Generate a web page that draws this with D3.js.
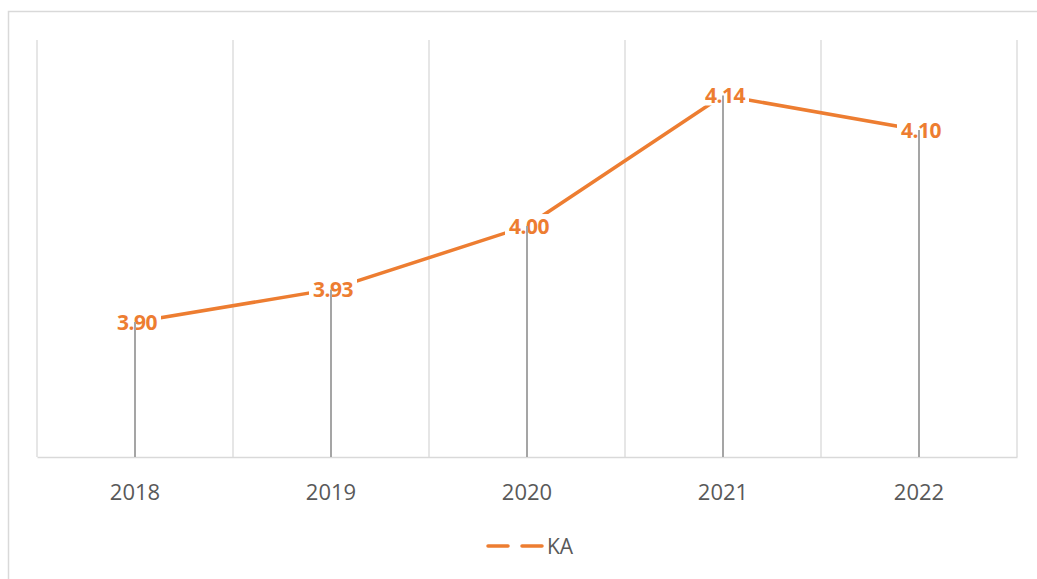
<!DOCTYPE html>
<html>
<head>
<meta charset="utf-8">
<title>KA</title>
<style>
  body { margin: 0; background: #fff; }
  svg { display: block; }
</style>
</head>
<body>
<script src="https://cdn.jsdelivr.net/npm/d3@7"></script>
<script>
var width = 1037, height = 579;

// data
var years = ["2018", "2019", "2020", "2021", "2022"];
var kaValues = [3.90, 3.934, 4.00, 4.136, 4.10];
var seriesName = "KA";

var orange = "#ED7D31";
var margin = { top: 40, right: 20, bottom: 122, left: 37 };

var svg = d3.select("body").append("svg")
    .attr("width", width)
    .attr("height", height);

// chart border
svg.append("rect")
    .attr("x", 8.5).attr("y", 11.5)
    .attr("width", width + 10).attr("height", height + 10)
    .attr("fill", "none")
    .attr("stroke", "#d9d9d9")
    .attr("stroke-width", 1.5);

var x = d3.scaleBand()
    .domain(years)
    .range([margin.left, width - margin.right]);

var y = d3.scaleLinear()
    .domain([3.7594, 4.1938])
    .range([height - margin.bottom, margin.top]);

var y0 = height - margin.bottom;

// vertical gridlines at category borders
var edges = years.map(d => x(d)).concat([x.range()[1]]);
svg.append("g").selectAll("line")
    .data(edges)
    .enter().append("line")
    .attr("x1", d => d).attr("x2", d => d)
    .attr("y1", margin.top).attr("y2", y0)
    .attr("stroke", "#d9d9d9")
    .attr("stroke-width", 1.3);

// x axis
var xAxis = svg.append("g")
    .attr("transform", "translate(0," + y0 + ")")
    .call(d3.axisBottom(x).tickSize(0).tickPadding(27));
xAxis.select(".domain").attr("stroke", "#d9d9d9").attr("stroke-width", 1.6);
xAxis.selectAll("text")
    .attr("font-family", "Open Sans")
    .attr("font-size", 22)
    .attr("fill", "#595959");

var cx = d => x(d) + x.bandwidth() / 2;

// line
var line = d3.line()
    .x((d, i) => cx(years[i]))
    .y(d => y(d));
svg.append("path")
    .datum(kaValues)
    .attr("d", line)
    .attr("fill", "none")
    .attr("stroke", orange)
    .attr("stroke-width", 3.5)
    .attr("stroke-linejoin", "round");

// label backgrounds
var fmt = d3.format(".2f");
var labels = svg.append("g").selectAll("g")
    .data(kaValues)
    .enter().append("g")
    .attr("transform", (d, i) => "translate(" + (cx(years[i]) + 2) + "," + y(d) + ")");
labels.append("rect")
    .attr("x", -24).attr("y", -12)
    .attr("width", 48).attr("height", 22)
    .attr("fill", "#fff");

// drop lines
svg.append("g").selectAll("line")
    .data(kaValues)
    .enter().append("line")
    .attr("x1", (d, i) => cx(years[i])).attr("x2", (d, i) => cx(years[i]))
    .attr("y1", d => y(d)).attr("y2", y0)
    .attr("stroke", "#a5a5a5")
    .attr("stroke-width", 2);

labels.append("text")
    .attr("text-anchor", "middle")
    .attr("y", 8)
    .attr("font-family", "Open Sans")
    .attr("font-weight", "bold")
    .attr("font-size", 21)
    .attr("letter-spacing", -0.5)
    .attr("fill", orange)
    .text(d => fmt(d));

// legend
var legend = svg.append("g").attr("transform", "translate(488,546)");
legend.append("line")
    .attr("x1", 0).attr("x2", 55)
    .attr("stroke", orange)
    .attr("stroke-width", 3.5)
    .attr("stroke-linecap", "round")
    .attr("stroke-dasharray", "20,14");
legend.append("text")
    .attr("x", 59).attr("y", 8)
    .attr("font-family", "Open Sans")
    .attr("font-size", 21)
    .attr("fill", "#595959")
    .text(seriesName);
</script>
</body>
</html>
